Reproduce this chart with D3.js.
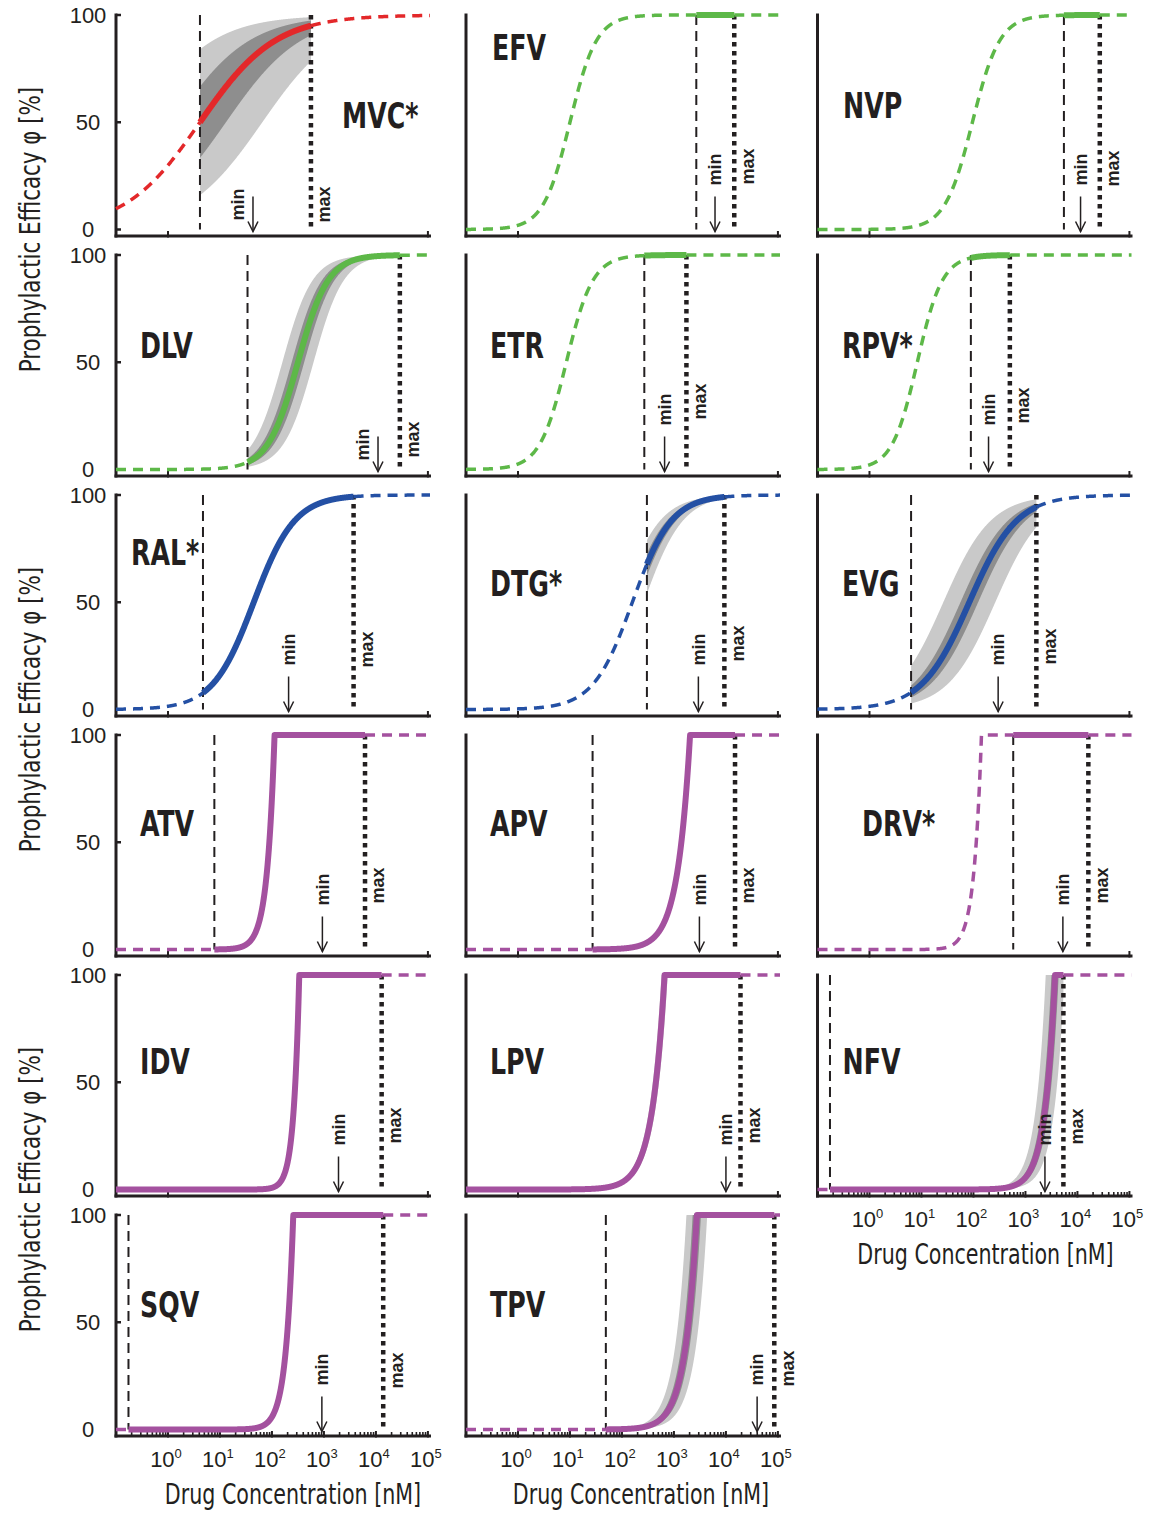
<!DOCTYPE html>
<html><head><meta charset="utf-8">
<script src="https://cdn.jsdelivr.net/npm/d3@7"></script>
<style>
body{margin:0;background:#fff;}
svg{display:block;}
</style></head><body>
<svg id="chart" width="1152" height="1513"></svg>
<script>
// ---------------- data ----------------
const drugs      = ["MVC*","EFV","NVP","DLV","ETR","RPV*","RAL*","DTG*","EVG","ATV","APV","DRV*","IDV","LPV","NFV","SQV","TPV"];
const drugClass  = ["CCR5","NNRTI","NNRTI","NNRTI","NNRTI","NNRTI","INI","INI","INI","PI","PI","PI","PI","PI","PI","PI","PI"];
// curve model: "hill" = sigmoid dose-response, "sat" = steep rise that saturates at 100 %
const curveModel = ["hill","hill","hill","hill","hill","hill","hill","hill","hill","sat","sat","sat","sat","sat","sat","sat","sat"];
// log10 of IC50 (hill) or of saturation concentration (sat), in nM
const logMid     = [0.615, 1.0, 1.98, 2.5, 0.93, 0.92, 1.65, 2.2, 1.92, 2.05, 3.31, 2.154, 2.525, 2.82, 3.57, 2.41, 3.44];
const slope      = [0.6, 1.7, 1.65, 1.5, 1.7, 1.8, 1.1, 1.15, 0.95, 3.0, 1.8, 3.0, 4.0, 1.8, 2.2, 3.0, 1.9];
// concentration range (log10 nM): lower (dashed line) and upper (dotted line), min trough arrow
const logLower   = [0.615, 3.43, 3.74, 1.53, 2.43, 1.95, 0.673, 2.48, 0.80, 0.892, 1.435, 2.765, null, null, -0.76, -0.76, 1.69];
const logUpper   = [2.75, 4.16, 4.43, 4.46, 3.24, 2.70, 3.57, 3.97, 3.21, 3.79, 4.175, 4.21, 4.11, 4.28, 3.73, 4.14, 4.93];
const logMinConc = [1.635, 3.79, 4.06, 4.04, 2.82, 2.29, 2.32, 3.47, 2.475, 2.97, 3.49, 3.72, 3.28, 4.0, 3.375, 2.96, 4.6];
// spread of the uncertainty band (log10 shift of the midpoint)
const bandOuter  = [1.2, 0, 0, 0.3, 0, 0, 0.05, 0.22, 0.5, 0.04, 0.04, 0, 0.03, 0.06, 0.18, 0.03, 0.2];
const bandInner  = [0.5, 0, 0, 0.12, 0, 0, 0.02, 0.09, 0.17, 0.02, 0.02, 0, 0.015, 0.03, 0.07, 0.015, 0.08];
const yTicks     = [0, 50, 100];
const xTickExp   = [0, 1, 2, 3, 4, 5];
const classColor = {CCR5:"#e3282a", NNRTI:"#5db848", INI:"#2450a4", PI:"#a4519f"};
const yTitle = "Prophylactic Efficacy φ [%]";
const xTitle = "Drug Concentration [nM]";

// ---------------- layout ----------------
const colX = [116, 466, 817.5];
const xTitleShift = [20, 18, 11];
const PW = 314, PH = 214.5, ROW0 = 15, ROWSTEP = 240;
const LOGMIN = -1, LOGMAX = 5.04;
const nameOffset = [[226,100],[26,32],[25.5,90],[24,90],[24,90],[24.5,90],[15,57],[24,88],[24.5,88],[24,88],[24,88],[44.5,88],[24,86],[24,86],[25,86],[24,89],[24,89]];
const minSide  = ["left","above","above","left","above","above","above","above","above","above","above","above","above","above","above","above","above"];
const maxLift  = [7,45,43,12,50,46,42,48,45,46,46,46,46,46,45,41,43];
const bottomPanels = [14, 15, 16];

const NARROW = '"Liberation Sans Narrow","Arial Narrow","DejaVu Sans Condensed",sans-serif';
const REG = '"Liberation Sans",Arial,sans-serif';
const INK = "#231f20";

const svg = d3.select("#chart");

drugs.forEach((name, i) => {
  const r = Math.floor(i / 3), c = i % 3;
  const x0 = colX[c], yTop = ROW0 + r * ROWSTEP, yZero = yTop + PH, axisY = yZero + 6.5;
  const x = d3.scaleLog().domain([10 ** LOGMIN, 10 ** LOGMAX]).range([x0, x0 + PW]);
  const y = d3.scaleLinear().domain([0, 100]).range([yZero, yTop]);
  const col = classColor[drugClass[i]];
  const g = svg.append("g");

  const f = (lc, shift) => {
    const m = logMid[i] + shift;
    if (curveModel[i] === "hill") return 100 / (1 + 10 ** (-slope[i] * (lc - m)));
    return 100 * Math.min(1, 10 ** (slope[i] * (lc - m)));
  };
  const samples = (a, b) => {
    const n = Math.max(2, Math.ceil((b - a) / 0.004));
    return d3.range(n + 1).map(k => a + (b - a) * k / n);
  };
  const line = d3.line().x(d => x(10 ** d)).y(d => y(f(d, 0)));

  const lo = logLower[i] === null ? LOGMIN : logLower[i];
  const hi = logUpper[i];

  // uncertainty bands
  [[bandOuter[i], "#c9c9c9"], [bandInner[i], "#8e8e8e"]].forEach(([d, fill]) => {
    if (d <= 0) return;
    const area = d3.area().x(v => x(10 ** v)).y0(v => y(f(v, d))).y1(v => y(f(v, -d)));
    g.append("path").attr("d", area(samples(lo, hi))).attr("fill", fill).attr("stroke", "none");
  });

  // axes
  g.append("line").attr("x1", x0).attr("x2", x0).attr("y1", yTop - 1.5).attr("y2", axisY + 1.5)
    .attr("stroke", INK).attr("stroke-width", 3);
  g.append("line").attr("x1", x0 - 1.5).attr("x2", x0 + PW + 1).attr("y1", axisY).attr("y2", axisY)
    .attr("stroke", INK).attr("stroke-width", 3);
  const isBottom = bottomPanels.includes(i);
  const majors = isBottom ? xTickExp : [0, 5];
  majors.forEach(e => {
    g.append("line").attr("x1", x(10 ** e)).attr("x2", x(10 ** e)).attr("y1", axisY - 5).attr("y2", axisY + 1.5)
      .attr("stroke", INK).attr("stroke-width", 2);
  });
  if (isBottom) {
    d3.range(-1, 5).forEach(e => d3.range(2, 10).forEach(k => {
      const v = k * 10 ** e;
      g.append("line").attr("x1", x(v)).attr("x2", x(v)).attr("y1", axisY - 4).attr("y2", axisY)
        .attr("stroke", INK).attr("stroke-width", 1.6);
    }));
    xTickExp.forEach(e => {
      const t = g.append("text").attr("x", x(10 ** e) - 2).attr("y", axisY + 31)
        .attr("text-anchor", "middle").style("font-family", REG).style("font-size", "22px").attr("fill", INK);
      t.append("tspan").text("10");
      t.append("tspan").attr("dy", -9).style("font-size", "13px").text(e);
    });
    g.append("text").attr("transform", `translate(${x0 + PW / 2 + xTitleShift[c]},${axisY + 68}) scale(0.79,1)`)
      .attr("text-anchor", "middle").style("font-family", NARROW).style("font-size", "29px").attr("fill", INK)
      .text(xTitle);
  }
  if (c === 0) {
    yTicks.forEach(v => {
      g.append("line").attr("x1", x0).attr("x2", x0 + 5).attr("y1", y(v)).attr("y2", y(v))
        .attr("stroke", INK).attr("stroke-width", 2.5);
      g.append("text").attr("x", 88).attr("y", y(v)).attr("dy", "0.36em").attr("text-anchor", "middle")
        .style("font-family", REG).style("font-size", "22px").attr("fill", INK).text(v);
    });
    if (r % 2 === 0) {
      g.append("text").attr("transform", `translate(40,${yZero}) rotate(-90) scale(0.82,1)`)
        .attr("text-anchor", "middle").style("font-family", NARROW).style("font-size", "29px").attr("fill", INK)
        .text(yTitle);
    }
  }

  // range lines
  if (logLower[i] !== null && logLower[i] > LOGMIN) {
    g.append("line").attr("x1", x(10 ** lo)).attr("x2", x(10 ** lo)).attr("y1", y(100)).attr("y2", y(0))
      .attr("stroke", INK).attr("stroke-width", 2).attr("stroke-dasharray", "10,6");
  }
  g.append("line").attr("x1", x(10 ** hi)).attr("x2", x(10 ** hi)).attr("y1", y(100)).attr("y2", y(0))
    .attr("stroke", INK).attr("stroke-width", 4.5).attr("stroke-dasharray", "4.5,4.5");

  // curves
  if (lo > LOGMIN) {
    g.append("path").attr("d", line(samples(LOGMIN, lo))).attr("fill", "none").attr("stroke", col)
      .attr("stroke-width", 3.5).attr("stroke-dasharray", "10,7");
  }
  if (hi < LOGMAX) {
    g.append("path").attr("d", line(samples(hi, LOGMAX))).attr("fill", "none").attr("stroke", col)
      .attr("stroke-width", 3.5).attr("stroke-dasharray", "10,7");
  }
  g.append("path").attr("d", line(samples(lo, hi))).attr("fill", "none").attr("stroke", col)
    .attr("stroke-width", 6).attr("stroke-linejoin", "round");

  // min arrow + labels
  const ax = x(10 ** logMinConc[i]);
  const aTop = yZero - 33, aTip = yZero + 2;
  g.append("line").attr("x1", ax).attr("x2", ax).attr("y1", aTop).attr("y2", aTip).attr("stroke", INK).attr("stroke-width", 1.5);
  g.append("path").attr("d", `M${ax - 5},${aTip - 10} L${ax},${aTip} L${ax + 5},${aTip - 10}`)
    .attr("fill", "none").attr("stroke", INK).attr("stroke-width", 1.5);
  const minX = minSide[i] === "left" ? ax - 15 : ax;
  const minY = minSide[i] === "left" ? yZero - 9 : yZero - 44;
  g.append("text").attr("transform", `translate(${minX},${minY}) rotate(-90)`).attr("dy", "0.35em")
    .style("font-family", REG).style("font-weight", "bold").style("font-size", "18px").attr("fill", INK).text("min");
  g.append("text").attr("transform", `translate(${x(10 ** hi) + 13},${yZero - maxLift[i]}) rotate(-90)`).attr("dy", "0.35em")
    .style("font-family", REG).style("font-weight", "bold").style("font-size", "18px").attr("fill", INK).text("max");

  // drug name
  g.append("text").attr("transform", `translate(${x0 + nameOffset[i][0]},${yTop + nameOffset[i][1]}) scale(0.78,1)`)
    .attr("dy", "0.36em").style("font-family", NARROW).style("font-weight", "bold").style("font-size", "36px")
    .attr("fill", INK).text(name);
});
</script>
</body></html>
